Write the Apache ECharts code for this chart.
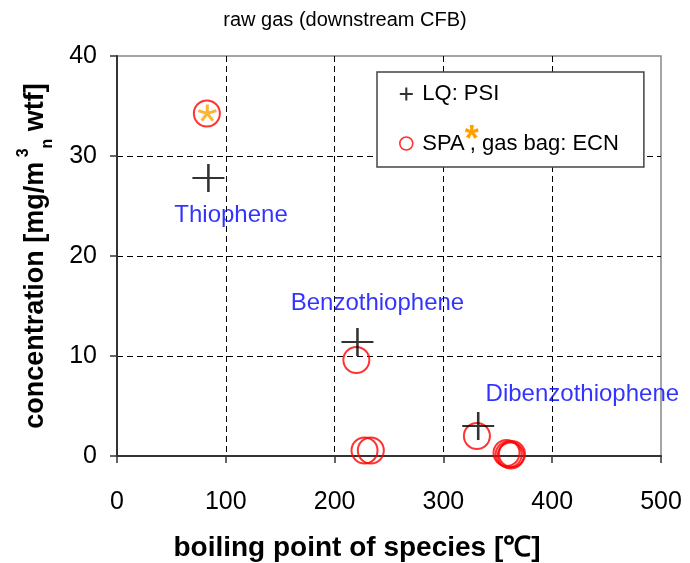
<!DOCTYPE html>
<html>
<head>
<meta charset="utf-8">
<script src="https://cdn.jsdelivr.net/npm/echarts@6/dist/echarts.min.js"></script>
<style>
html,body{margin:0;padding:0;background:#fff;}
#chart{width:690px;height:563px;}
</style>
</head>
<body>
<div id="chart"></div>
<script>
// ---- data ----
const psiName = 'LQ: PSI';
const ecnName = 'SPA, gas bag: ECN';
const psiX = [84, 221, 332];
const psiY = [27.8, 11.4, 3.0];
const ecnX = [82.6, 220, 227.5, 233.3, 330.8, 358, 360, 362, 363];
const ecnY = [34.25, 9.6, 0.55, 0.55, 2.0, 0.3, 0.15, 0.05, 0.2];
const starX = [83];
const starY = [34.3];
const labelNames = ['Thiophene', 'Benzothiophene', 'Dibenzothiophene'];
const labelX = [104.8, 239.4, 427.7];
const labelY = [24.1, 15.3, 6.2];
const titleText = 'raw gas (downstream CFB)';
const xName = 'boiling point of species [℃]';

// ---- styles / helpers ----
const FONT = '"Liberation Sans", Arial, Helvetica, sans-serif';
const plusPath = 'path://M0,9.2 L20,9.2 L20,10.8 L0,10.8 Z M9.2,0 L10.8,0 L10.8,20 L9.2,20 Z';
const plusPathLegend = 'path://M0,8.4 L20,8.4 L20,11.6 L0,11.6 Z M8.4,0 L11.6,0 L11.6,20 L8.4,20 Z';
function asteriskPath() {
  const L = 10, w = 3.2;
  let s = '';
  for (let k = 0; k < 5; k++) {
    const a = k * 72 * Math.PI / 180;
    const dx = Math.sin(a), dy = -Math.cos(a);
    const px = Math.cos(a), py = Math.sin(a);
    const pts = [
      [px * w / 2, py * w / 2],
      [px * w / 2 + dx * L, py * w / 2 + dy * L],
      [-px * w / 2 + dx * L, -py * w / 2 + dy * L],
      [-px * w / 2, -py * w / 2]
    ];
    s += 'M' + pts.map(p => (p[0] + 12).toFixed(2) + ',' + (p[1] + 12).toFixed(2)).join(' L') + ' Z ';
  }
  return 'path://' + s;
}
const zip = (xs, ys) => xs.map((x, i) => [x, ys[i]]);

const chart = echarts.init(document.getElementById('chart'), null, {renderer: 'canvas'});
const dashed = {show: true, showMinLine: false, showMaxLine: false, lineStyle: {color: '#000', width: 1, type: [6, 4]}};

chart.setOption({
  animation: false,
  backgroundColor: '#fff',
  textStyle: {fontFamily: FONT},
  title: {
    text: titleText, left: 'center', top: 5,
    textStyle: {fontFamily: FONT, fontSize: 20, fontWeight: 'normal', color: '#000'}
  },
  grid: {
    left: 117, top: 56, width: 544, height: 400, containLabel: false, outerBoundsMode: 'none',
    show: true, borderColor: '#888', borderWidth: 1.5, backgroundColor: 'transparent'
  },
  legend: {
    orient: 'vertical', left: 377, top: 72,
    padding: [11, 25, 3, 22], itemGap: 18, itemWidth: 22, itemHeight: 13,
    borderColor: '#444', borderWidth: 1.5, backgroundColor: '#fff',
    selectedMode: false,
    data: [
      {name: psiName, icon: plusPathLegend, itemStyle: {color: '#000', borderWidth: 0}},
      {name: ecnName, icon: 'circle', itemStyle: {color: 'transparent', borderColor: '#ff0000', borderWidth: 1.6}}
    ],
    formatter: n => n === ecnName ? '{a|SPA}{s|*}{a|, gas bag: ECN}' : '{a|' + n + '}',
    textStyle: {
      fontFamily: FONT, fontSize: 22, color: '#000',
      rich: {
        a: {fontFamily: FONT, fontSize: 22, color: '#000', lineHeight: 22},
        s: {fontFamily: FONT, fontSize: 36, fontWeight: 'bold', color: '#ffa000', lineHeight: 22, verticalAlign: 'middle', padding: [0, 0, 5, 0], width: 5, align: 'left'}
      }
    }
  },
  xAxis: {
    type: 'value', min: 0, max: 500, interval: 100,
    name: xName, nameLocation: 'middle', nameGap: 78,
    nameTextStyle: {fontFamily: FONT, fontSize: 28, fontWeight: 'bold', color: '#000', padding: [0, 64, 0, 0]},
    axisLine: {show: true, onZero: false, lineStyle: {color: '#333', width: 2}},
    axisTick: {show: true, inside: false, length: 7, lineStyle: {color: '#333', width: 1.5}},
    axisLabel: {fontFamily: FONT, fontSize: 25, color: '#000', margin: 34},
    splitLine: dashed
  },
  yAxis: {
    type: 'value', min: 0, max: 40, interval: 10,
    name: '{a|concentration [mg/m}{sup| 3}{sub|n}{a| wtf]}', nameLocation: 'middle', nameGap: 61, nameRotate: 90,
    nameTextStyle: {
      fontFamily: FONT, fontSize: 27, fontWeight: 'bold', color: '#000',
      rich: {
        a: {fontFamily: FONT, fontSize: 27, fontWeight: 'bold', color: '#000', lineHeight: 40},
        sup: {fontFamily: FONT, fontSize: 16, fontWeight: 'bold', color: '#000', verticalAlign: 'top', lineHeight: 20},
        sub: {fontFamily: FONT, fontSize: 16, fontWeight: 'bold', color: '#000', verticalAlign: 'bottom', lineHeight: 20}
      }
    },
    axisLine: {show: true, lineStyle: {color: '#333', width: 2}},
    axisTick: {show: true, inside: false, length: 7, lineStyle: {color: '#333', width: 1.5}},
    axisLabel: {fontFamily: FONT, fontSize: 25, color: '#000', margin: 20},
    splitLine: dashed
  },
  series: [
    {
      name: ecnName, type: 'scatter', clip: false, z: 3,
      data: zip(ecnX, ecnY),
      symbol: 'circle', symbolSize: 26,
      itemStyle: {color: 'transparent', borderColor: '#ff0000', borderWidth: 2}
    },
    {
      name: psiName, type: 'scatter', clip: false, z: 4,
      data: zip(psiX, psiY),
      symbol: plusPath, symbolSize: [32, 28],
      itemStyle: {color: '#000'}
    },
    {
      name: 'SPA*', type: 'scatter', clip: false, z: 5,
      data: zip(starX, starY),
      symbol: asteriskPath(), symbolSize: [19, 17],
      itemStyle: {color: '#ffa000'}
    },
    {
      name: 'labels', type: 'scatter', clip: false, silent: true, z: 6,
      data: labelNames.map((n, i) => ({name: n, value: [labelX[i], labelY[i]]})),
      symbolSize: 0,
      label: {show: true, position: 'inside', formatter: '{b}', fontFamily: FONT, fontSize: 24, color: '#0000ff'}
    }
  ]
});
</script>
</body>
</html>
